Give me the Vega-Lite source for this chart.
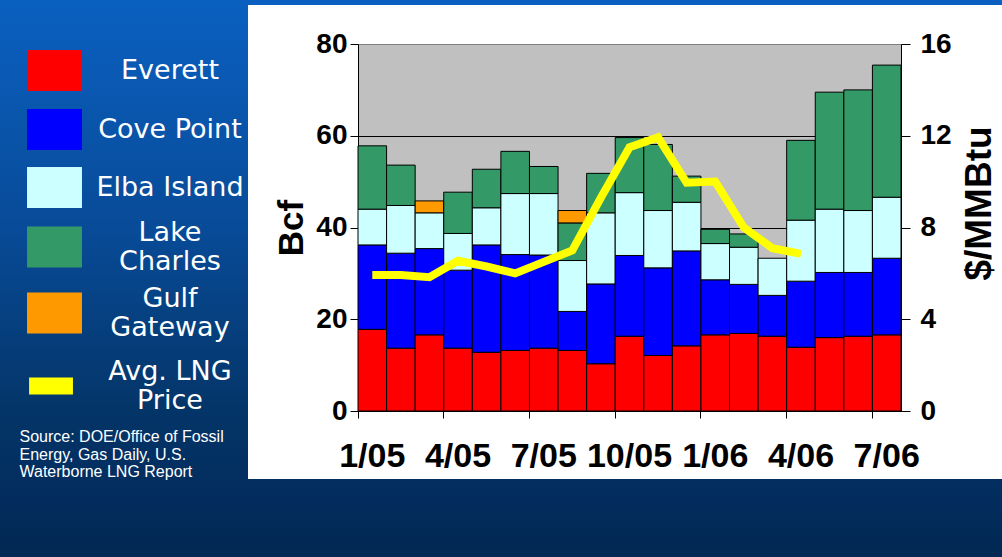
{
  "$schema": "https://vega.github.io/schema/vega-lite/v6.json",
  "background": "white",
  "padding": 0,
  "bounds": "flush",
  "columns": 3,
  "spacing": {"row": 0, "column": 0},
  "datasets": {
    "bars": [
      {"m": "1/05", "t": "Everett", "k": 1, "v": 17.8}, {"m": "1/05", "t": "Cove Point", "k": 2, "v": 18.4}, {"m": "1/05", "t": "Elba Island", "k": 3, "v": 7.8}, {"m": "1/05", "t": "Lake Charles", "k": 4, "v": 13.8},
      {"m": "2/05", "t": "Everett", "k": 1, "v": 13.7}, {"m": "2/05", "t": "Cove Point", "k": 2, "v": 20.7}, {"m": "2/05", "t": "Elba Island", "k": 3, "v": 10.4}, {"m": "2/05", "t": "Lake Charles", "k": 4, "v": 8.8},
      {"m": "3/05", "t": "Everett", "k": 1, "v": 16.6}, {"m": "3/05", "t": "Cove Point", "k": 2, "v": 18.8}, {"m": "3/05", "t": "Elba Island", "k": 3, "v": 7.8}, {"m": "3/05", "t": "Gulf Gateway", "k": 5, "v": 2.6},
      {"m": "4/05", "t": "Everett", "k": 1, "v": 13.7}, {"m": "4/05", "t": "Cove Point", "k": 2, "v": 17.0}, {"m": "4/05", "t": "Elba Island", "k": 3, "v": 8.0}, {"m": "4/05", "t": "Lake Charles", "k": 4, "v": 9.0},
      {"m": "5/05", "t": "Everett", "k": 1, "v": 12.8}, {"m": "5/05", "t": "Cove Point", "k": 2, "v": 23.4}, {"m": "5/05", "t": "Elba Island", "k": 3, "v": 8.1}, {"m": "5/05", "t": "Lake Charles", "k": 4, "v": 8.4},
      {"m": "6/05", "t": "Everett", "k": 1, "v": 13.2}, {"m": "6/05", "t": "Cove Point", "k": 2, "v": 20.9}, {"m": "6/05", "t": "Elba Island", "k": 3, "v": 13.3}, {"m": "6/05", "t": "Lake Charles", "k": 4, "v": 9.2},
      {"m": "7/05", "t": "Everett", "k": 1, "v": 13.7}, {"m": "7/05", "t": "Cove Point", "k": 2, "v": 20.3}, {"m": "7/05", "t": "Elba Island", "k": 3, "v": 13.4}, {"m": "7/05", "t": "Lake Charles", "k": 4, "v": 5.9},
      {"m": "8/05", "t": "Everett", "k": 1, "v": 13.2}, {"m": "8/05", "t": "Cove Point", "k": 2, "v": 8.5}, {"m": "8/05", "t": "Elba Island", "k": 3, "v": 11.1}, {"m": "8/05", "t": "Lake Charles", "k": 4, "v": 8.2}, {"m": "8/05", "t": "Gulf Gateway", "k": 5, "v": 2.7},
      {"m": "9/05", "t": "Everett", "k": 1, "v": 10.3}, {"m": "9/05", "t": "Cove Point", "k": 2, "v": 17.4}, {"m": "9/05", "t": "Elba Island", "k": 3, "v": 15.5}, {"m": "9/05", "t": "Lake Charles", "k": 4, "v": 8.6},
      {"m": "10/05", "t": "Everett", "k": 1, "v": 16.3}, {"m": "10/05", "t": "Cove Point", "k": 2, "v": 17.6}, {"m": "10/05", "t": "Elba Island", "k": 3, "v": 13.7}, {"m": "10/05", "t": "Lake Charles", "k": 4, "v": 12.0},
      {"m": "11/05", "t": "Everett", "k": 1, "v": 12.1}, {"m": "11/05", "t": "Cove Point", "k": 2, "v": 19.1}, {"m": "11/05", "t": "Elba Island", "k": 3, "v": 12.5}, {"m": "11/05", "t": "Lake Charles", "k": 4, "v": 14.4},
      {"m": "12/05", "t": "Everett", "k": 1, "v": 14.2}, {"m": "12/05", "t": "Cove Point", "k": 2, "v": 20.7}, {"m": "12/05", "t": "Elba Island", "k": 3, "v": 10.6}, {"m": "12/05", "t": "Lake Charles", "k": 4, "v": 5.7},
      {"m": "1/06", "t": "Everett", "k": 1, "v": 16.6}, {"m": "1/06", "t": "Cove Point", "k": 2, "v": 12.0}, {"m": "1/06", "t": "Elba Island", "k": 3, "v": 7.9}, {"m": "1/06", "t": "Lake Charles", "k": 4, "v": 3.1},
      {"m": "2/06", "t": "Everett", "k": 1, "v": 16.9}, {"m": "2/06", "t": "Cove Point", "k": 2, "v": 10.7}, {"m": "2/06", "t": "Elba Island", "k": 3, "v": 8.1}, {"m": "2/06", "t": "Lake Charles", "k": 4, "v": 2.9},
      {"m": "3/06", "t": "Everett", "k": 1, "v": 16.3}, {"m": "3/06", "t": "Cove Point", "k": 2, "v": 8.9}, {"m": "3/06", "t": "Elba Island", "k": 3, "v": 8.1},
      {"m": "4/06", "t": "Everett", "k": 1, "v": 13.9}, {"m": "4/06", "t": "Cove Point", "k": 2, "v": 14.4}, {"m": "4/06", "t": "Elba Island", "k": 3, "v": 13.3}, {"m": "4/06", "t": "Lake Charles", "k": 4, "v": 17.4},
      {"m": "5/06", "t": "Everett", "k": 1, "v": 16.0}, {"m": "5/06", "t": "Cove Point", "k": 2, "v": 14.2}, {"m": "5/06", "t": "Elba Island", "k": 3, "v": 13.8}, {"m": "5/06", "t": "Lake Charles", "k": 4, "v": 25.5},
      {"m": "6/06", "t": "Everett", "k": 1, "v": 16.3}, {"m": "6/06", "t": "Cove Point", "k": 2, "v": 13.9}, {"m": "6/06", "t": "Elba Island", "k": 3, "v": 13.5}, {"m": "6/06", "t": "Lake Charles", "k": 4, "v": 26.3},
      {"m": "7/06", "t": "Everett", "k": 1, "v": 16.6}, {"m": "7/06", "t": "Cove Point", "k": 2, "v": 16.7}, {"m": "7/06", "t": "Elba Island", "k": 3, "v": 13.3}, {"m": "7/06", "t": "Lake Charles", "k": 4, "v": 28.8}
    ],
    "price": [
      {"m": "1/05", "p": 5.93}, {"m": "2/05", "p": 5.93}, {"m": "3/05", "p": 5.83}, {"m": "4/05", "p": 6.55},
      {"m": "5/05", "p": 6.3}, {"m": "6/05", "p": 6.0}, {"m": "7/05", "p": 6.5}, {"m": "8/05", "p": 7.0},
      {"m": "9/05", "p": 9.3}, {"m": "10/05", "p": 11.5}, {"m": "11/05", "p": 11.93}, {"m": "12/05", "p": 9.95},
      {"m": "1/06", "p": 10.0}, {"m": "2/06", "p": 8.0}, {"m": "3/06", "p": 7.1}, {"m": "4/06", "p": 6.85}
    ],
    "legend": [
      {"s": "Everett"}, {"s": "Cove Point"}, {"s": "Elba Island"}, {"s": "Lake Charles"}, {"s": "Gulf Gateway"}, {"s": "Avg. LNG Price"}
    ],
    "empty": []
  },
  "concat": [
    {
      "width": 248, "height": 44,
      "view": {"stroke": null, "fill": {"gradient": "linear", "x1": 0, "y1": 0, "x2": 0, "y2": 1,
        "stops": [{"offset": 0, "color": "#0a60c0"}, {"offset": 1, "color": "#0a5cb9"}]}},
      "data": {"name": "empty"}, "mark": "rect", "encoding": {}
    },
    {
      "width": 110, "height": 44,
      "view": {"stroke": null, "fill": {"gradient": "linear", "x1": 0, "y1": 0, "x2": 0, "y2": 1,
        "stops": [{"offset": 0, "color": "#0a60c0"}, {"offset": 0.112, "color": "#0a60c0"}, {"offset": 0.1125, "color": "rgba(255,255,255,0)"}, {"offset": 1, "color": "rgba(255,255,255,0)"}]}},
      "data": {"name": "empty"}, "mark": "rect", "encoding": {}
    },
    {
      "width": 644, "height": 44,
      "view": {"stroke": null, "fill": {"gradient": "linear", "x1": 0, "y1": 0, "x2": 0, "y2": 1,
        "stops": [{"offset": 0, "color": "#0a60c0"}, {"offset": 0.112, "color": "#0a60c0"}, {"offset": 0.1125, "color": "rgba(255,255,255,0)"}, {"offset": 1, "color": "rgba(255,255,255,0)"}]}},
      "data": {"name": "empty"}, "mark": "rect", "encoding": {}
    },
    {
      "width": 248, "height": 367,
      "view": {"stroke": null, "fill": {"gradient": "linear", "x1": 0, "y1": 0, "x2": 0, "y2": 1,
        "stops": [{"offset": 0, "color": "#0a5cb9"}, {"offset": 0.5, "color": "#084b98"}, {"offset": 1, "color": "#043568"}]}},
      "data": {"name": "empty"}, "mark": "rect", "encoding": {}
    },
    {
      "width": 110, "height": 367,
      "view": {"stroke": null, "fill": null},
      "data": {"name": "empty"}, "mark": "rect", "encoding": {}
    },
    {
      "width": 543,
      "height": 367,
      "view": {"fill": "#C0C0C0", "stroke": "#808080", "strokeWidth": 1},
      "layer": [
        {
          "data": {"name": "bars"},
          "mark": {"type": "bar", "stroke": "#000000", "strokeWidth": 1},
          "encoding": {
            "x": {
              "field": "m", "type": "ordinal",
              "scale": {
                "domain": ["1/05", "2/05", "3/05", "4/05", "5/05", "6/05", "7/05", "8/05", "9/05", "10/05", "11/05", "12/05", "1/06", "2/06", "3/06", "4/06", "5/06", "6/06", "7/06"],
                "paddingInner": 0, "paddingOuter": 0
              },
              "axis": {
                "values": ["1/05", "4/05", "7/05", "10/05", "1/06", "4/06", "7/06"],
                "bandPosition": 0, "labelDx": 19.5, "labelAngle": 0, "labelAlign": "center",
                "labelFont": "Liberation Sans", "labelFontWeight": "bold", "labelFontSize": 34, "labelColor": "#000000",
                "labelPadding": 21, "labelOverlap": false, "labelFlush": false, "labelBound": false,
                "tickSize": 7, "tickColor": "#000000", "domainColor": "#000000", "title": null
              }
            },
            "y": {
              "field": "v", "type": "quantitative", "stack": "zero",
              "scale": {"domain": [0, 80], "nice": false},
              "axis": {
                "values": [0, 20, 40, 60, 80],
                "grid": true,
                "gridColor": {"condition": {"test": "datum.value == 80", "value": "#808080"}, "value": "#000000"},
                "gridWidth": 1,
                "labelFont": "Liberation Sans", "labelFontWeight": "bold", "labelFontSize": 28, "labelColor": "#000000",
                "labelPadding": 3, "labelDy": 7,
                "tickSize": 8, "tickColor": "#000000", "domainColor": "#000000",
                "title": "Bcf", "titleFont": "Liberation Sans", "titleFontSize": 35, "titleFontWeight": "bold",
                "titleColor": "#000000", "titleAngle": -90, "titleBaseline": "bottom", "titlePadding": 6
              }
            },
            "color": {
              "field": "t", "type": "nominal",
              "scale": {
                "domain": ["Everett", "Cove Point", "Elba Island", "Lake Charles", "Gulf Gateway"],
                "range": ["#FF0000", "#0000FF", "#CCFFFF", "#339966", "#FF9900"]
              },
              "legend": null
            },
            "order": {"field": "k", "type": "quantitative", "sort": "ascending"}
          }
        },
        {
          "data": {"name": "price"},
          "mark": {"type": "line", "color": "#FFFF00", "strokeWidth": 8, "strokeJoin": "miter"},
          "encoding": {
            "x": {"field": "m", "type": "ordinal"},
            "y": {
              "field": "p", "type": "quantitative",
              "scale": {"domain": [0, 16], "nice": false},
              "axis": {
                "orient": "right", "values": [0, 4, 8, 12, 16], "grid": false,
                "labelFont": "Liberation Sans", "labelFontWeight": "bold", "labelFontSize": 28, "labelColor": "#000000",
                "labelPadding": 10, "labelDy": 7,
                "tickSize": 9, "tickColor": "#000000", "domainColor": "#000000",
                "title": "$/MMBtu", "titleFont": "Liberation Sans", "titleFontSize": 37, "titleFontWeight": "bold",
                "titleColor": "#000000", "titleAngle": -90, "titleBaseline": "top", "titlePadding": 10, "titleY": 159
              }
            }
          }
        }
      ],
      "resolve": {"scale": {"y": "independent"}}
    },
    {
      "width": 248, "height": 146,
      "view": {"stroke": null, "fill": {"gradient": "linear", "x1": 0, "y1": 0, "x2": 0, "y2": 1,
        "stops": [{"offset": 0, "color": "#043568"}, {"offset": 0.466, "color": "#032e60"}, {"offset": 1, "color": "#022853"}]}},
      "data": {"name": "legend"},
      "mark": {"type": "point", "filled": true, "opacity": 0},
      "encoding": {
        "color": {
          "field": "s", "type": "nominal",
          "scale": {
            "domain": ["Everett", "Cove Point", "Elba Island", "Lake Charles", "Gulf Gateway", "Avg. LNG Price"],
            "range": ["#FF0000", "#0000FF", "#CCFFFF", "#339966", "#FF9900", "#FFFF00"]
          },
          "legend": {
            "title": null, "orient": "none", "legendX": 33, "legendY": -362, "padding": 0,
            "symbolSize": 1681, "symbolOpacity": 1, "symbolStrokeColor": "#E6E6E6", "symbolStrokeWidth": 1.5,
            "labelFont": "DejaVu Sans", "labelFontSize": 27, "labelColor": "white", "labelAlign": "center",
            "labelOffset": 94, "labelLimit": 400, "rowPadding": 0,
            "labelExpr": "datum.label == 'Lake Charles' ? ['Lake', 'Charles'] : datum.label == 'Gulf Gateway' ? ['Gulf', 'Gateway'] : datum.label == 'Avg. LNG Price' ? ['Avg. LNG', 'Price'] : datum.label"
          }
        },
        "shape": {
          "field": "s", "type": "nominal",
          "scale": {
            "domain": ["Everett", "Cove Point", "Elba Island", "Lake Charles", "Gulf Gateway", "Avg. LNG Price"],
            "range": [
              "M-1.34,-1H1.34V1H-1.34Z M0,1.561Z",
              "M-1.34,-1H1.34V1H-1.34Z M0,1.512Z",
              "M-1.34,-1H1.34V1H-1.34Z",
              "M-1.34,-0.29H1.34V1.71H-1.34Z M0,1.976Z",
              "M-1.34,-0.29H1.34V1.71H-1.34Z M0,2.341Z",
              "M-1.24,0.29H0.9V1.12H-1.24Z"
            ]
          },
          "legend": {
            "title": null, "orient": "none", "legendX": 33, "legendY": -362, "padding": 0,
            "symbolSize": 1681, "symbolOpacity": 1, "symbolStrokeColor": "#E6E6E6", "symbolStrokeWidth": 1.5,
            "labelFont": "DejaVu Sans", "labelFontSize": 27, "labelColor": "white", "labelAlign": "center",
            "labelOffset": 94, "labelLimit": 400, "rowPadding": 0,
            "labelExpr": "datum.label == 'Lake Charles' ? ['Lake', 'Charles'] : datum.label == 'Gulf Gateway' ? ['Gulf', 'Gateway'] : datum.label == 'Avg. LNG Price' ? ['Avg. LNG', 'Price'] : datum.label"
          }
        }
      },
      "title": {
        "text": ["Source: DOE/Office of Fossil", "Energy, Gas Daily, U.S.", "Waterborne LNG Report"],
        "orient": "bottom", "anchor": "start", "frame": "group", "align": "left", "baseline": "top",
        "offset": -127.6, "dx": 19.5, "color": "white", "font": "Liberation Sans", "fontSize": 16,
        "fontWeight": "normal", "lineHeight": 17.5
      }
    },
    {
      "width": 110, "height": 146,
      "view": {"stroke": null, "fill": {"gradient": "linear", "x1": 0, "y1": 0, "x2": 0, "y2": 1,
        "stops": [{"offset": 0, "color": "rgba(255,255,255,0)"}, {"offset": 0.4655, "color": "rgba(255,255,255,0)"}, {"offset": 0.466, "color": "#032e60"}, {"offset": 1, "color": "#022853"}]}},
      "data": {"name": "empty"}, "mark": "rect", "encoding": {}
    },
    {
      "width": 644, "height": 146,
      "view": {"stroke": null, "fill": {"gradient": "linear", "x1": 0, "y1": 0, "x2": 0, "y2": 1,
        "stops": [{"offset": 0, "color": "rgba(255,255,255,0)"}, {"offset": 0.4655, "color": "rgba(255,255,255,0)"}, {"offset": 0.466, "color": "#032e60"}, {"offset": 1, "color": "#022853"}]}},
      "data": {"name": "empty"}, "mark": "rect", "encoding": {}
    }
  ],
  "resolve": {"scale": {"color": "independent", "shape": "independent"}, "legend": {"color": "independent", "shape": "independent"}},
  "config": {
    "view": {"stroke": null},
    "font": "Liberation Sans"
  }
}
